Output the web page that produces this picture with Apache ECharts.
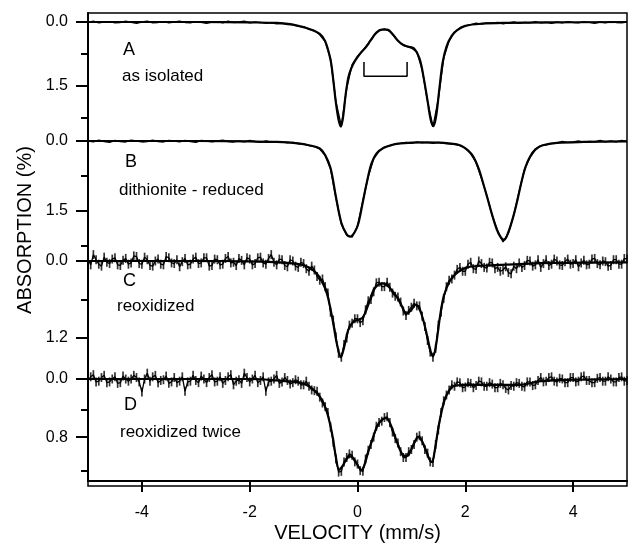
<!DOCTYPE html>
<html>
<head>
<meta charset="utf-8">
<script src="https://cdn.jsdelivr.net/npm/echarts@6/dist/echarts.min.js"></script>
<style>
html,body{margin:0;padding:0;background:#fff;}
#chart{width:628px;height:544px;}
</style>
</head>
<body>
<div id="chart"></div>
<script>
// channel velocities (mm/s), coarse for A and B
var velocity = [
  -5,-4.9,-4.8,-4.7,-4.6,-4.5,-4.4,-4.3,-4.2,-4.1,
  -4,-3.9,-3.8,-3.7,-3.6,-3.5,-3.4,-3.3,-3.2,-3.1,
  -3,-2.9,-2.8,-2.7,-2.6,-2.5,-2.4,-2.3,-2.2,-2.1,
  -2,-1.9,-1.8,-1.7,-1.6,-1.5,-1.4,-1.3,-1.2,-1.1,
  -1,-0.9,-0.8,-0.7,-0.6,-0.5,-0.4,-0.3,-0.2,-0.1,
  0,0.1,0.2,0.3,0.4,0.5,0.6,0.7,0.8,0.9,
  1,1.1,1.2,1.3,1.4,1.5,1.6,1.7,1.8,1.9,
  2,2.1,2.2,2.3,2.4,2.5,2.6,2.7,2.8,2.9,
  3,3.1,3.2,3.3,3.4,3.5,3.6,3.7,3.8,3.9,
  4,4.1,4.2,4.3,4.4,4.5,4.6,4.7,4.8,4.9,
  5
];
// finer channels for the noisy spectra C and D
var velocityFine = [
  -5,-4.95,-4.9,-4.85,-4.8,-4.75,-4.7,-4.65,-4.6,-4.55,-4.5,-4.45,-4.4,-4.35,-4.3,-4.25,-4.2,-4.15,-4.1,-4.05,
  -4,-3.95,-3.9,-3.85,-3.8,-3.75,-3.7,-3.65,-3.6,-3.55,-3.5,-3.45,-3.4,-3.35,-3.3,-3.25,-3.2,-3.15,-3.1,-3.05,
  -3,-2.95,-2.9,-2.85,-2.8,-2.75,-2.7,-2.65,-2.6,-2.55,-2.5,-2.45,-2.4,-2.35,-2.3,-2.25,-2.2,-2.15,-2.1,-2.05,
  -2,-1.95,-1.9,-1.85,-1.8,-1.75,-1.7,-1.65,-1.6,-1.55,-1.5,-1.45,-1.4,-1.35,-1.3,-1.25,-1.2,-1.15,-1.1,-1.05,
  -1,-0.95,-0.9,-0.85,-0.8,-0.75,-0.7,-0.65,-0.6,-0.55,-0.5,-0.45,-0.4,-0.35,-0.3,-0.25,-0.2,-0.15,-0.1,-0.05,
  0,0.05,0.1,0.15,0.2,0.25,0.3,0.35,0.4,0.45,0.5,0.55,0.6,0.65,0.7,0.75,0.8,0.85,0.9,0.95,
  1,1.05,1.1,1.15,1.2,1.25,1.3,1.35,1.4,1.45,1.5,1.55,1.6,1.65,1.7,1.75,1.8,1.85,1.9,1.95,
  2,2.05,2.1,2.15,2.2,2.25,2.3,2.35,2.4,2.45,2.5,2.55,2.6,2.65,2.7,2.75,2.8,2.85,2.9,2.95,
  3,3.05,3.1,3.15,3.2,3.25,3.3,3.35,3.4,3.45,3.5,3.55,3.6,3.65,3.7,3.75,3.8,3.85,3.9,3.95,
  4,4.05,4.1,4.15,4.2,4.25,4.3,4.35,4.4,4.45,4.5,4.55,4.6,4.65,4.7,4.75,4.8,4.85,4.9,4.95,
  5
];

// measured absorption (%)
var dataA = [
  0.01,-0.02,0.02,0,-0.01,0.02,0.01,-0.02,0.01,0.03,
  0,-0.02,0.02,0.01,-0.01,0.02,0,-0.02,0.01,0.02,
  -0.01,0.01,0.03,0,-0.01,0.02,-0.02,0.01,0,-0.02,
  0.02,0,0.01,0.03,0.02,0.04,0.03,0.06,0.06,0.1,
  0.11,0.17,0.2,0.3,0.46,0.86,1.87,2.44,1.55,1.0,
  0.8,0.66,0.5,0.32,0.2,0.16,0.22,0.37,0.5,0.57,
  0.61,0.7,1.12,1.86,2.46,1.8,0.84,0.44,0.24,0.14,
  0.09,0.06,0.03,0.05,0.02,0.03,0.01,0.04,0.02,0,
  0.03,0.01,0.02,-0.01,0.02,0.01,0.03,0,0.02,-0.01,
  0.01,0.02,-0.01,0.01,0.03,0,0.02,-0.01,0.01,0.02,
  0
];
var dataB = [
  0,0.02,-0.02,0.01,0.03,-0.01,0.01,0.02,-0.02,0,
  0.02,0.01,-0.02,0.01,0.02,-0.01,0,0.02,-0.01,0.01,
  0.03,-0.01,0,0.02,0,-0.02,0.01,0.02,0,0.02,
  -0.01,0.01,0.03,0,0.02,0.03,0.02,0.04,0.03,0.06,
  0.06,0.1,0.12,0.17,0.31,0.6,1.22,1.78,2.02,2.06,
  1.82,1.28,0.76,0.38,0.22,0.13,0.1,0.06,0.05,0.03,
  0.05,0.02,0.04,0.03,0.05,0.03,0.05,0.06,0.07,0.1,
  0.15,0.27,0.46,0.8,1.17,1.6,1.93,2.16,1.97,1.58,
  1.08,0.6,0.35,0.19,0.1,0.08,0.05,0.04,0.01,0.03,
  0.02,0,0.03,0.01,0.02,-0.01,0.02,0,0.02,-0.01,
  0.01
];
var dataC = [
  -0.03,0.06,-0.1,-0.02,0.05,0.08,-0.06,0.02,0.04,-0.03,-0.05,0.06,0.07,-0.01,-0.04,0.05,0.03,-0.08,-0.07,0.04,
  0.05,-0.06,-0.02,0.07,0.08,0,-0.03,0.05,0.06,-0.07,-0.05,0.03,0.04,-0.02,0.09,0.01,-0.04,0.06,0.05,-0.03,
  -0.06,0.04,0.03,-0.05,-0.05,0.08,0.07,-0.03,-0.02,0.06,0.05,-0.04,-0.07,0.03,0.02,0.07,-0.04,-0.01,0.06,-0.05,
  -0.03,0.06,0.04,-0.05,-0.06,0.03,0.05,-0.04,-0.1,0.02,0.06,-0.03,-0.02,0.07,0.09,-0.02,0,0.08,0.1,0.02,
  0.04,0.12,0.16,0.08,0.14,0.24,0.3,0.28,0.4,0.5,0.8,0.92,1.18,1.44,1.5,1.3,1.2,1.0,0.97,0.9,
  0.9,0.96,0.93,0.76,0.62,0.6,0.48,0.34,0.33,0.4,0.4,0.33,0.41,0.5,0.55,0.56,0.64,0.78,0.85,0.77,
  0.72,0.66,0.7,0.7,0.86,1.02,1.24,1.42,1.5,1.36,1.0,0.8,0.58,0.4,0.3,0.28,0.22,0.13,0.1,0.16,
  0.16,0.05,0.02,0.12,0.13,0,0.04,0.1,0.11,0.02,0.03,0.12,0.1,0.16,0.14,0.09,0.18,0.2,0.08,0.12,
  0.03,0.1,0.07,-0.01,0,0.08,0.06,-0.02,0.1,0.04,-0.02,0.07,0.05,-0.03,0,0.06,0.07,0.01,-0.03,0.05,
  0.04,-0.02,0.09,0.03,-0.01,0.06,0.05,-0.03,-0.04,0.04,0.06,0,0.01,0.08,0.07,-0.02,-0.02,0.05,0.05,-0.04,
  -0.03
];
var dataD = [
  0.02,-0.03,-0.06,0.04,0.03,-0.02,-0.05,0.05,0.04,0,-0.03,0.06,0.05,-0.04,0,0.03,0,-0.05,-0.02,0.04,
  0.18,0,-0.08,0.03,-0.03,-0.05,0.05,0.02,0.01,-0.04,0.06,0.04,-0.02,0.05,0.03,-0.03,0.17,0.04,0.03,-0.05,
  0.02,0.05,-0.04,0,0.05,-0.02,-0.06,0.04,0.03,-0.03,0.06,0.02,-0.03,-0.06,0.08,0.03,0.01,0.06,-0.08,-0.02,
  0.04,0,-0.05,0.05,0.02,-0.03,0.17,0.04,0.03,0,-0.05,0.06,0.04,-0.02,0.02,0.07,0.05,0.01,0.03,0.08,
  0.08,0.03,0.1,0.15,0.16,0.17,0.25,0.33,0.38,0.46,0.66,0.87,1.1,1.28,1.27,1.14,1.08,1.03,1.05,1.14,
  1.17,1.26,1.27,1.1,0.98,0.9,0.8,0.65,0.6,0.58,0.53,0.52,0.6,0.73,0.82,0.88,1.0,1.08,1.08,1.0,
  0.97,0.9,0.8,0.78,0.85,0.97,1.02,1.14,1.15,0.9,0.7,0.46,0.3,0.22,0.15,0.08,0.1,0.04,0.05,0.12,
  0.11,0.05,0.06,0.12,0.09,0.03,0.04,0.1,0.1,0.05,0.07,0.12,0.12,0.06,0.08,0.13,0.15,0.09,0.1,0.05,
  0.06,0.1,0.11,0.04,0.04,0.09,0.08,0.02,-0.02,0.04,0.03,-0.02,-0.03,0.03,0.04,-0.01,0,0.05,0.05,-0.02,
  -0.02,0.04,0.03,-0.03,-0.04,0.02,0.02,0.05,0.05,-0.01,-0.02,0.03,0.03,-0.03,0,0.04,0.04,-0.02,-0.03,0.03,
  0.02
];

// fitted curves
var fitVelA = [-5,-3,-2,-1.5,-1.25,-1.07,-0.88,-0.7,-0.6,-0.5,-0.45,-0.4,-0.35,-0.31,-0.27,-0.22,-0.17,-0.12,-0.05,0.05,0.15,0.25,0.35,0.45,0.55,0.65,0.75,0.85,0.95,1.05,1.15,1.22,1.3,1.36,1.41,1.46,1.52,1.58,1.65,1.75,1.85,2,2.3,2.8,3.5,5];
var fitA    = [0,0,0.01,0.02,0.05,0.1,0.17,0.28,0.45,0.89,1.35,1.9,2.3,2.45,2.25,1.7,1.3,1.1,0.92,0.74,0.6,0.42,0.25,0.18,0.18,0.28,0.44,0.54,0.58,0.62,0.85,1.25,1.85,2.3,2.44,2.2,1.55,0.95,0.58,0.32,0.19,0.09,0.04,0.02,0.01,0];
var fitVelB = [-5,-3,-2,-1.5,-1.1,-0.9,-0.7,-0.6,-0.5,-0.4,-0.3,-0.2,-0.14,-0.05,0.02,0.1,0.18,0.26,0.35,0.48,0.65,0.8,1.2,1.6,1.9,2.05,2.15,2.25,2.33,2.41,2.49,2.58,2.65,2.72,2.8,2.89,2.95,3.05,3.12,3.2,3.3,3.44,3.7,4.2,5];
var fitB    = [0,0,0.01,0.02,0.05,0.09,0.16,0.3,0.58,1.2,1.75,2.0,2.05,1.95,1.75,1.3,0.85,0.48,0.27,0.15,0.08,0.05,0.03,0.04,0.09,0.2,0.34,0.6,0.9,1.22,1.55,1.88,2.05,2.12,1.95,1.62,1.35,0.84,0.55,0.34,0.18,0.09,0.04,0.02,0.01];
var fitVelC = [-5,-2.5,-1.8,-1.3,-1.07,-0.9,-0.76,-0.66,-0.57,-0.5,-0.45,-0.38,-0.31,-0.25,-0.17,-0.08,0,0.1,0.2,0.3,0.4,0.47,0.55,0.65,0.73,0.82,0.91,1,1.08,1.15,1.22,1.3,1.36,1.4,1.45,1.53,1.6,1.72,1.85,2.03,2.4,3,3.5,5];
var fitC    = [0,0,0.01,0.03,0.05,0.1,0.19,0.32,0.5,0.75,0.97,1.3,1.5,1.35,1.07,0.95,0.92,0.88,0.68,0.45,0.36,0.35,0.38,0.47,0.56,0.7,0.82,0.76,0.68,0.75,0.92,1.2,1.42,1.48,1.35,0.87,0.55,0.3,0.18,0.1,0.07,0.05,0.03,0.02];
var fitVelD = [-5,-2,-1.5,-1.07,-0.9,-0.76,-0.65,-0.57,-0.5,-0.45,-0.4,-0.34,-0.28,-0.2,-0.14,-0.05,0.03,0.08,0.13,0.2,0.28,0.36,0.45,0.53,0.6,0.7,0.78,0.85,0.92,0.98,1.05,1.13,1.2,1.27,1.33,1.38,1.43,1.5,1.56,1.62,1.7,1.78,2,2.5,3,3.4,4,5];
var fitD    = [0,0,0.02,0.05,0.1,0.19,0.3,0.45,0.65,0.84,1.08,1.25,1.2,1.1,1.06,1.12,1.22,1.25,1.18,1.0,0.82,0.66,0.56,0.54,0.6,0.8,0.96,1.05,1.06,1.0,0.88,0.8,0.86,0.98,1.1,1.14,1.0,0.67,0.45,0.28,0.16,0.1,0.08,0.08,0.08,0.03,0.01,0];

// doublet bracket in panel A
var bracketVel = [0.12,0.12,0.92,0.92];
var bracketAbs = [0.94,1.27,1.27,0.94];

// tick labels
var velocityTicks = [-4,-2,0,2,4];
var ticksA = [0,1.5],  minorA = [0.75,2.25];
var ticksB = [0,1.5],  minorB = [0.75,2.25];
var ticksC = [0,1.2],  minorC = [0.6];
var ticksD = [0,0.8],  minorD = [0.4,1.2];

var panelText = [['A','as isolated'],['B','dithionite - reduced'],['C','reoxidized'],['D','reoxidized twice']];

function pairs(xs, ys){
	var out = [];
	for (var i = 0; i < Math.min(xs.length, ys.length); i++) out.push([xs[i], ys[i]]);
	return out;
}

function mossbauerChart(){
	var chart = echarts.init(document.getElementById('chart'));
	var FONT = '"Liberation Sans", Arial, Helvetica, sans-serif';

	// layout of the four stacked panels
	var panelTop = [13, 141, 261, 379];
	var panelHeight = [128, 120, 118, 107];
	var panelMin = [-0.211, 0, 0, 0];
	var panelMax = [2.789, 2.571, 1.839, 1.403];
	var majors = [ticksA, ticksB, ticksC, ticksD];
	var minors = [minorA, minorB, minorC, minorD];
	var chanX = [velocity, velocity, velocityFine, velocityFine];
	var datas = [dataA, dataB, dataC, dataD];
	var fitX = [fitVelA, fitVelB, fitVelC, fitVelD];
	var fitY = [fitA, fitB, fitC, fitD];
	var labelY = [[50, 76], [162, 190], [281, 306], [405, 432]];
	var labelX = [[123, 122], [125, 119], [123, 117], [124, 120]];

	var grids = [], xAxes = [], yAxes = [], series = [], graphics = [];
	var i;
	// panel grids, then copies for minor ticks, then outer frame
	for (i = 0; i < 8; i++) {
		grids.push({left: 88, right: 1, top: panelTop[i % 4], height: panelHeight[i % 4]});
	}
	grids.push({left: 88, right: 1, top: 13, height: 473, show: true,
		borderColor: '#000', borderWidth: 1.5, backgroundColor: 'transparent'});

	for (i = 0; i < 9; i++) {
		var xa = {gridIndex: i, type: 'value', min: -5, max: 5, show: false, splitLine: {show: false}};
		if (i === 3) {
			xa.show = true;
			xa.axisLine = {show: true, onZero: false, lineStyle: {color: '#000', width: 2}};
			xa.axisTick = {show: true, customValues: velocityTicks, length: 11, lineStyle: {color: '#000', width: 2}};
			xa.axisLabel = {customValues: velocityTicks, color: '#000', fontSize: 16, fontFamily: FONT, margin: 24};
			xa.name = 'VELOCITY (mm/s)';
			xa.nameLocation = 'middle';
			xa.nameGap = 42;
			xa.nameTextStyle = {color: '#000', fontSize: 20, fontFamily: FONT};
		}
		xAxes.push(xa);
	}

	for (i = 0; i < 4; i++) {
		yAxes.push({
			gridIndex: i, type: 'value', inverse: true, min: panelMin[i], max: panelMax[i],
			splitLine: {show: false},
			axisLine: {show: true, onZero: false, lineStyle: {color: '#000', width: 2}},
			axisTick: {show: true, customValues: majors[i], length: 12, lineStyle: {color: '#000', width: 2}},
			axisLabel: {customValues: majors[i], color: '#000', fontSize: 16, fontFamily: FONT, margin: 20,
				formatter: function (v) { return Number(v).toFixed(1); }}
		});
	}
	for (i = 0; i < 4; i++) {
		yAxes.push({
			gridIndex: i + 4, type: 'value', inverse: true, min: panelMin[i], max: panelMax[i],
			splitLine: {show: false},
			axisLine: {show: false, onZero: false},
			axisTick: {show: true, customValues: minors[i], length: 7, lineStyle: {color: '#000', width: 2}},
			axisLabel: {show: false}
		});
	}
	yAxes.push({gridIndex: 8, type: 'value', min: 0, max: 1, show: false, splitLine: {show: false}});

	for (i = 0; i < 4; i++) {
		series.push({
			type: 'line', xAxisIndex: i, yAxisIndex: i, data: pairs(chanX[i], datas[i]),
			showSymbol: false, clip: false, silent: true, z: 2,
			lineStyle: {color: '#000', width: (i >= 2 ? 1.3 : 1.4)}
		});
		if (i >= 2) {
			series.push({
				type: 'scatter', xAxisIndex: i, yAxisIndex: i, data: pairs(chanX[i], datas[i]),
				symbol: 'rect', symbolSize: [1.7, 9], clip: false, silent: true, z: 2,
				itemStyle: {color: '#000'}
			});
		}
		series.push({
			type: 'line', xAxisIndex: i, yAxisIndex: i, data: pairs(fitX[i], fitY[i]),
			showSymbol: false, smooth: 0.35, clip: false, silent: true, z: 3,
			lineStyle: {color: '#000', width: 2.2}
		});

		graphics.push({type: 'text', x: labelX[i][0], y: labelY[i][0],
			style: {text: panelText[i][0], fill: '#000', font: '18px ' + FONT, align: 'left', verticalAlign: 'middle'}});
		graphics.push({type: 'text', x: labelX[i][1], y: labelY[i][1],
			style: {text: panelText[i][1], fill: '#000', font: '17px ' + FONT, align: 'left', verticalAlign: 'middle'}});
	}
	series.push({
		type: 'line', xAxisIndex: 0, yAxisIndex: 0, data: pairs(bracketVel, bracketAbs),
		showSymbol: false, clip: false, silent: true, z: 3,
		lineStyle: {color: '#000', width: 1.5}
	});

	graphics.push({type: 'text', x: 25, y: 230, rotation: Math.PI / 2,
		style: {text: 'ABSORPTION (%)', fill: '#000', font: '20px ' + FONT, align: 'center', verticalAlign: 'middle'}});

	var option = {
		animation: false,
		backgroundColor: '#fff',
		grid: grids,
		xAxis: xAxes,
		yAxis: yAxes,
		series: series,
		graphic: graphics
	};
	chart.setOption(option);
}

mossbauerChart();
</script>
</body>
</html>
